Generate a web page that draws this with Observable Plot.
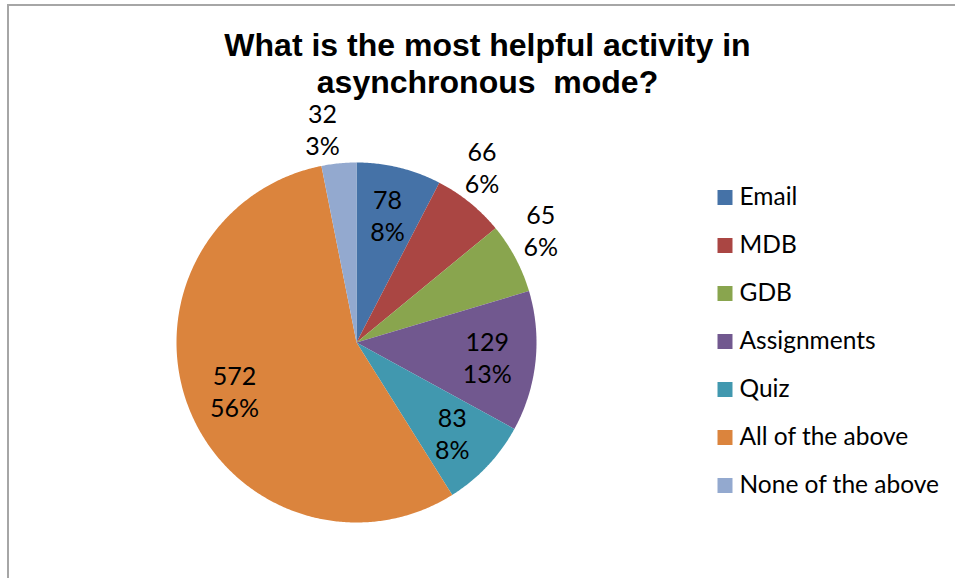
<!DOCTYPE html>
<html><head><meta charset="utf-8">
<script src="https://cdn.jsdelivr.net/npm/d3@7"></script>
<script src="https://cdn.jsdelivr.net/npm/@observablehq/plot@0.6"></script>
<style>
body{margin:0;background:#fff}
#wrap{position:relative;width:955px;height:578px;overflow:hidden}
#border{position:absolute;left:7px;top:4px;width:1000px;height:1000px;border:2px solid #a6a6a6;box-sizing:border-box}
#wrap svg{position:absolute;left:0;top:0}
</style>
</head><body><div id="wrap"><div id="border"></div></div>
<script>
const categories = ["Email","MDB","GDB","Assignments","Quiz","All of the above","None of the above"];
const counts = [78,66,65,129,83,572,32];
const colors = ["#4572A7","#AA4643","#89A54E","#71588F","#4198AF","#DB843D","#93A9CF"];
const title = "What is the most helpful activity in\nasynchronous  mode?";

const R = 180, cx = 356, cy = 342;
const total = d3.sum(counts);
const arcs = d3.pie().sort(null).value(d => d.count)(categories.map((c, i) => ({category: c, count: counts[i]})));

const slices = [];
arcs.forEach(a => {
  const n = Math.max(2, Math.ceil((a.endAngle - a.startAngle) / (Math.PI / 360)));
  slices.push({category: a.data.category, x: 0, y: 0});
  for (let k = 0; k <= n; k++) {
    const t = a.startAngle + (a.endAngle - a.startAngle) * k / n;
    slices.push({category: a.data.category, x: Math.sin(t), y: Math.cos(t)});
  }
});

const labels = arcs.map(a => {
  const mid = (a.startAngle + a.endAngle) / 2;
  const frac = a.data.count / total;
  const inside = frac > 0.07;
  const r = inside ? 0.73 : 1.2;
  const ang = inside ? mid : mid - 0.06;
  return {x: r * Math.sin(ang), y: r * Math.cos(ang), text: `${a.data.count}\n${Math.round(frac * 100)}%`};
});

const legend = categories.map((c, i) => ({category: c, x: (724.5 - cx) / R, y: (cy - (197 + 48 * i)) / R}));

const chart = Plot.plot({
  width: 955, height: 578, margin: 0,
  x: {domain: [-1, 1], range: [cx - R, cx + R], axis: null},
  y: {domain: [-1, 1], range: [cy + R, cy - R], axis: null},
  color: {domain: categories, range: colors},
  style: {background: "transparent", fontFamily: "Lato", color: "#000"},
  marks: [
    Plot.line(slices, {x: "x", y: "y", z: "category", fill: "category", stroke: "none", curve: "linear"}),
    Plot.text(labels, {x: "x", y: "y", text: "text", fontSize: 25, lineHeight: 1.28, fill: "#000"}),
    Plot.dot(legend, {x: "x", y: "y", symbol: "square", r: 8.46, fill: "category", stroke: "none"}),
    Plot.text(legend, {x: "x", y: "y", text: "category", textAnchor: "start", dx: 14.5, fontSize: 24.5, fill: "#000"}),
    Plot.text([title], {text: d => d, frameAnchor: "top", dx: 9.5, dy: 29, lineAnchor: "top", lineHeight: 1.16, fontSize: 32, fontWeight: "bold", fontFamily: "Liberation Sans", fill: "#000"})
  ]
});
document.getElementById("wrap").appendChild(chart);
</script>
</body></html>
